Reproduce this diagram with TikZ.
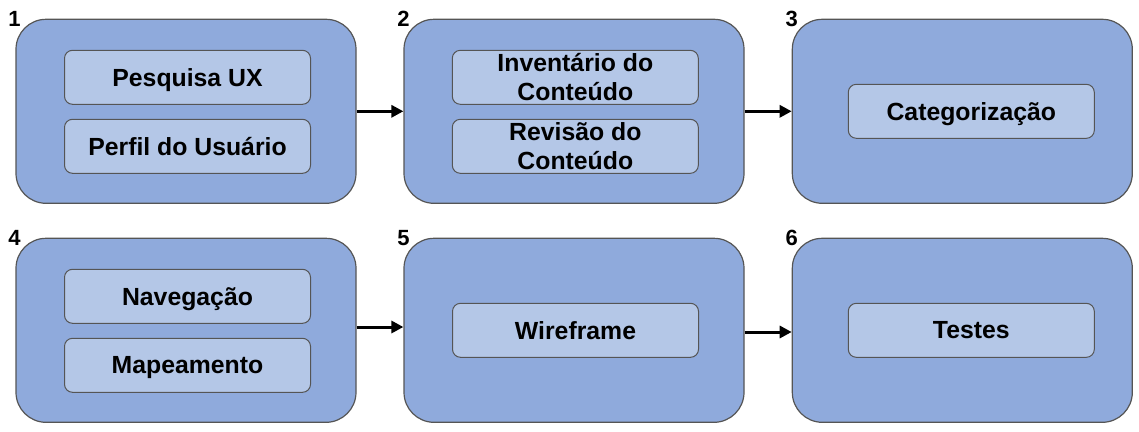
\documentclass[tikz,border=0pt]{standalone}
\usepackage{fontspec}
\setmainfont{Liberation Sans}
\usetikzlibrary{arrows.meta}
\definecolor{outerfill}{HTML}{8FAADC}
\definecolor{innerfill}{HTML}{B4C7E7}
\definecolor{edgegray}{HTML}{555555}
\begin{document}
\begin{tikzpicture}[x=1pt,y=-1pt,
  phase/.style={draw=edgegray,line width=1.2pt,fill=outerfill,rounded corners=30pt,
    minimum width=340pt,minimum height=184pt,inner sep=0pt},
  item/.style={draw=edgegray,line width=1pt,fill=innerfill,rounded corners=8pt,
    minimum width=246pt,minimum height=54pt,inner sep=0pt,align=center,
    font=\fontsize{24.8}{29}\selectfont\bfseries},
  oneline/.style={text depth=0pt},
  num/.style={font=\fontsize{22}{24}\selectfont\bfseries,inner sep=0pt},
  flow/.style={line width=3pt,-{Triangle[length=12pt,width=12pt]}}]
\useasboundingbox (0,0) rectangle (1139,431);
% phases
\node[phase] (b1) at (186,111.3) {};
\node[phase] (b2) at (574,111.3) {};
\node[phase] (b3) at (962.3,111.3) {};
\node[phase] (b4) at (186,330.3) {};
\node[phase] (b5) at (574,330.3) {};
\node[phase] (b6) at (962.3,330.3) {};
% numbers
\node[num] (n1) at ([xshift=-1pt]b1.north west) {1};
\node[num] (n2) at (b2.north west) {2};
\node[num] (n3) at (b3.north west) {3};
\node[num] (n4) at ([xshift=-1pt]b4.north west) {4};
\node[num] (n5) at (b5.north west) {5};
\node[num] (n6) at (b6.north west) {6};
% items
\node[item,oneline] (i1a) at (187.5,77.3) {Pesquisa UX};
\node[item,oneline] (i1b) at (187.5,146.3) {Perfil do Usuário};
\node[item] (i2a) at (575.3,77.3) {Inventário do\\Conteúdo};
\node[item] (i2b) at (575.3,146.3) {Revisão do\\Conteúdo};
\node[item,oneline] (i3) at (971.3,111.3) {Categorização};
\node[item,oneline] (i4a) at (187.5,296.3) {Navegação};
\node[item,oneline] (i4b) at (187.5,365.3) {Mapeamento};
\node[item,oneline] (i5) at (575.5,330.3) {Wireframe};
\node[item,oneline] (i6) at (971.3,330.3) {Testes};
% connectors
\draw[flow] (b1.east) -- (b2.west);
\draw[flow] (b2.east) -- (b3.west);
\draw[flow] ([yshift=3.3pt]b4.east) -- ([yshift=3.3pt]b5.west);
\draw[flow] ([yshift=-1.7pt]b5.east) -- ([yshift=-1.7pt]b6.west);
\end{tikzpicture}
\end{document}
